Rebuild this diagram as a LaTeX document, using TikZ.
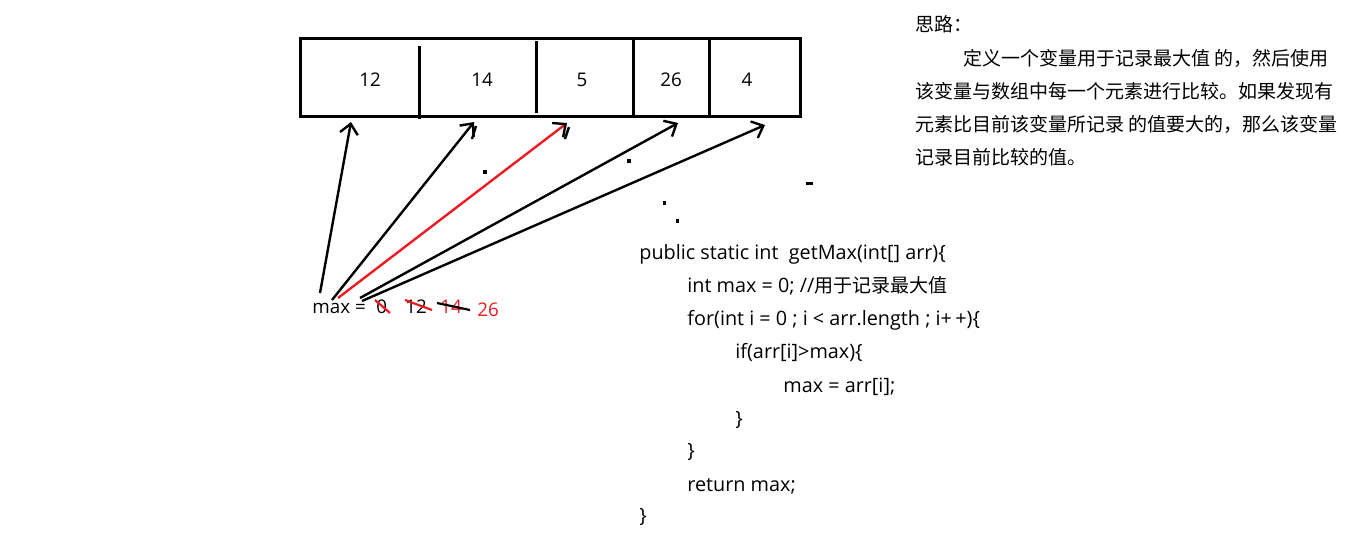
\documentclass[tikz,border=0pt]{standalone}
\usepackage{fontspec}
\setmainfont{Open Sans}
\newfontfamily\cjk{Noto Sans CJK SC}
\usepackage{xcolor}
\usetikzlibrary{arrows.meta}
\definecolor{PaintRed}{HTML}{ED1C24}

\begin{document}
\begin{tikzpicture}[x=0.5pt, y=-0.5pt, font=\fontsize{9.4}{11}\selectfont,
  cellline/.style={line width=1.5pt},
  ptr/.style={-{Straight Barb[length=5pt, width=9pt]}, line width=1.2pt},
  strike/.style={line width=1.1pt},
  txt/.style={anchor=base west, inner sep=0pt},
  code/.style={txt, font=\fontsize{9.9}{11}\selectfont},
  idea/.style={txt, font=\cjk\fontsize{9.5}{11}\selectfont},
  num/.style={inner sep=0pt}]
  \useasboundingbox (0,0) rectangle (1359,541);

  % the array
  \draw[cellline] (300,38) rectangle (800,116);
  \draw[cellline] (419,46) -- (419,119);
  \draw[cellline] (536,41) -- (536,113);
  \draw[cellline] (633,38) -- (633,116);
  \draw[cellline] (709,38) -- (709,116);
  \node[num] (n1) at (370,80) {12};
  \node[num] (n2) at (482,80) {14};
  \node[num] (n3) at (582,80) {5};
  \node[num] (n4) at (671,80) {26};
  \node[num] (n5) at (747,80) {4};

  % max and its values
  \node[txt] (mx) at (312,313) {max =};
  \node[txt] (v0) at (376,313) {0};
  \node[txt] (v12) at (405,313) {12};
  \node[txt, text=PaintRed] (v14) at (440,313) {14};
  \node[txt, text=PaintRed] (v26) at (477,316) {26};
  \draw[strike, PaintRed] (375,300) -- (390,313);
  \draw[strike, PaintRed] (405,300) -- (432,310);
  \draw[strike] (437,303) -- (470,310);

  \coordinate (t1) at (320,293);
  \coordinate (t2) at (332,300);
  \coordinate (t3) at (338,298);
  \coordinate (t4) at (360,298);
  \coordinate (t5) at (362,301);
  \coordinate (h1) at (351,122);
  \coordinate (h2) at (474,122);
  \coordinate (h3) at (567,123);
  \coordinate (h4) at (678,123);
  \coordinate (h5) at (765,125);
  \draw[ptr] (t1) -- (h1);
  \draw[ptr] (t2) -- (h2);
  \draw[ptr, PaintRed, -{Straight Barb[length=5pt, width=9pt, black]}] (t3) -- (h3);
  \draw[ptr] (t4) -- (h4);
  \draw[ptr] (t5) -- (h5);
  \draw[line width=1.2pt] (476,126) -- (472,139);
  \draw[line width=1.2pt] (569,127) -- (565,139);

  % stray marks
  \fill (483,170) rectangle (487,174);
  \fill (627,159) rectangle (631,163);
  \fill (663,201) rectangle (666,205);
  \fill (676,219) rectangle (679,223);
  \fill (806,182) rectangle (813,185);

  % the code
  \node[code] (c1) at (639,259) {public static int\ \ getMax(int[] arr)\{};
  \node[code] (c2) at (687,292) {int max = 0; //{\cjk\fontsize{9.5}{11}\selectfont 用于记录最大值}};
  \node[code] (c3) at (687,325) {for(int i = 0 ; i < arr.length ; i+\,+)\{};
  \node[code] (c4) at (735,358) {if(arr[i]>max)\{};
  \node[code] (c5) at (783,392) {max = arr[i];};
  \node[code] (c6) at (735,425) {\}};
  \node[code] (c7) at (687,457) {\}};
  \node[code] (c8) at (687,491) {return max;};
  \node[code] (c9) at (639,522) {\}};

  % the idea
  \node[idea] (s0) at (915,31) {思路：};
  \node[idea] (s1) at (963,65) {定义一个变量用于记录最大值 的，然后使用};
  \node[idea] (s2) at (915,98) {该变量与数组中每一个元素进行比较。如果发现有};
  \node[idea] (s3) at (915,131) {元素比目前该变量所记录 的值要大的，那么该变量};
  \node[idea] (s4) at (915,164) {记录目前比较的值。};
\end{tikzpicture}
\end{document}
